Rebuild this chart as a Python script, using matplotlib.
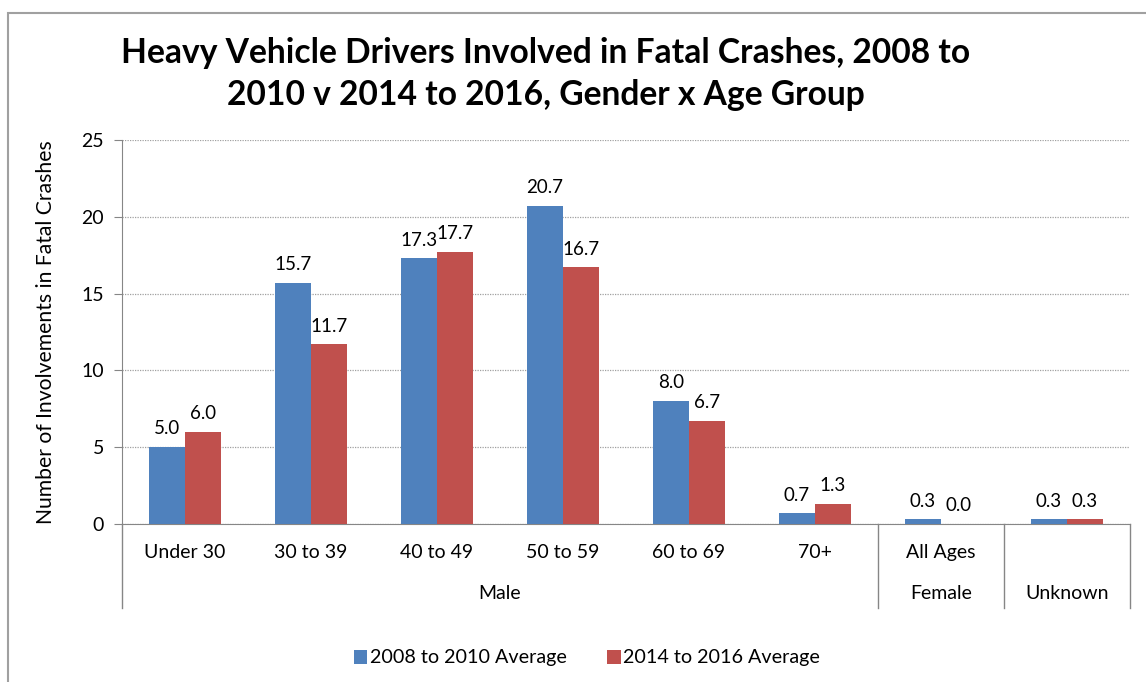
import matplotlib.pyplot as plt
from matplotlib.patches import Rectangle
import numpy as np

# Heavy vehicle drivers in fatal crashes, two 3-year averages
categories = ["Under 30", "30 to 39", "40 to 49", "50 to 59", "60 to 69", "70+", "All Ages", ""]
groups = ["Male", "Female", "Unknown"]
group_sizes = [6, 1, 1]
avg_2008_2010 = [5.0, 15.7, 17.3, 20.7, 8.0, 0.7, 0.3, 0.3]
avg_2014_2016 = [6.0, 11.7, 17.7, 16.7, 6.7, 1.3, 0.0, 0.3]
series_names = ["2008 to 2010 Average", "2014 to 2016 Average"]

blue = "#4F81BD"
red = "#C0504D"
plt.rcParams['font.family'] = ['Lato', 'DejaVu Sans']

W, H = 1146, 682
fig = plt.figure(figsize=(W / 100, H / 100), dpi=100)

# outer chart frame (cropped on the right and bottom)
fig.patches.append(Rectangle((8 / W, -0.1), 1.2, 1 - 13 / H + 0.1, transform=fig.transFigure,
                             fill=False, edgecolor="#a0a0a0", linewidth=1.5))

ax = fig.add_axes([122 / W, (H - 524) / H, (1130 - 122) / W, (524 - 140) / H])

x = np.arange(len(categories))
bw = 0.2857
b1 = ax.bar(x - bw / 2, avg_2008_2010, bw, color=blue, label=series_names[0], zorder=3)
b2 = ax.bar(x + bw / 2, avg_2014_2016, bw, color=red, label=series_names[1], zorder=3)
ax.bar_label(b1, fmt="%.1f", padding=7, fontsize=13.5)
ax.bar_label(b2, fmt="%.1f", padding=7, fontsize=13.5)

ax.set_xlim(-0.5, len(categories) - 0.5)
ax.set_ylim(0, 25)
ax.set_yticks(np.arange(0, 26, 5))
ax.tick_params(axis='y', direction='out', length=6, color="#868686", labelsize=14, pad=7)
ax.grid(axis='y', linestyle=(0, (1, 1)), color="#a0a0a0", linewidth=0.9, zorder=0)
ax.set_xticks([])
for s in ["top", "right"]:
    ax.spines[s].set_visible(False)
ax.spines["left"].set_color("#868686")
ax.spines["bottom"].set_color("#868686")
ax.set_ylabel("Number of Involvements in Fatal Crashes", fontsize=15.2, labelpad=18)

# two-level category axis
xt = ax.get_xaxis_transform()
for i, c in enumerate(categories):
    ax.text(i, -0.073, c, transform=xt, ha="center", va="center", fontsize=14)
ax.plot([-0.5, -0.5], [0, -0.219], transform=xt, color="#868686", lw=1, clip_on=False)
start = 0
for g, n in zip(groups, group_sizes):
    end = start + n
    ax.text((start + end - 1) / 2, -0.182, g, transform=xt, ha="center", va="center", fontsize=14)
    ax.plot([end - 0.5, end - 0.5], [0, -0.219], transform=xt, color="#868686", lw=1, clip_on=False)
    start = end

fig.text(546 / W, 1 - 74 / H, "Heavy Vehicle Drivers Involved in Fatal Crashes, 2008 to\n2010 v 2014 to 2016, Gender x Age Group",
         ha="center", va="center", fontsize=24.2, fontweight="bold", linespacing=1.4)

fig.legend(loc="center", bbox_to_anchor=(587 / W, 1 - 658 / H), ncol=2, frameon=False,
           fontsize=14.2, handlelength=0.7, handleheight=0.7, handletextpad=0.15, columnspacing=2.0)

fig.savefig("out.png", dpi=100)
